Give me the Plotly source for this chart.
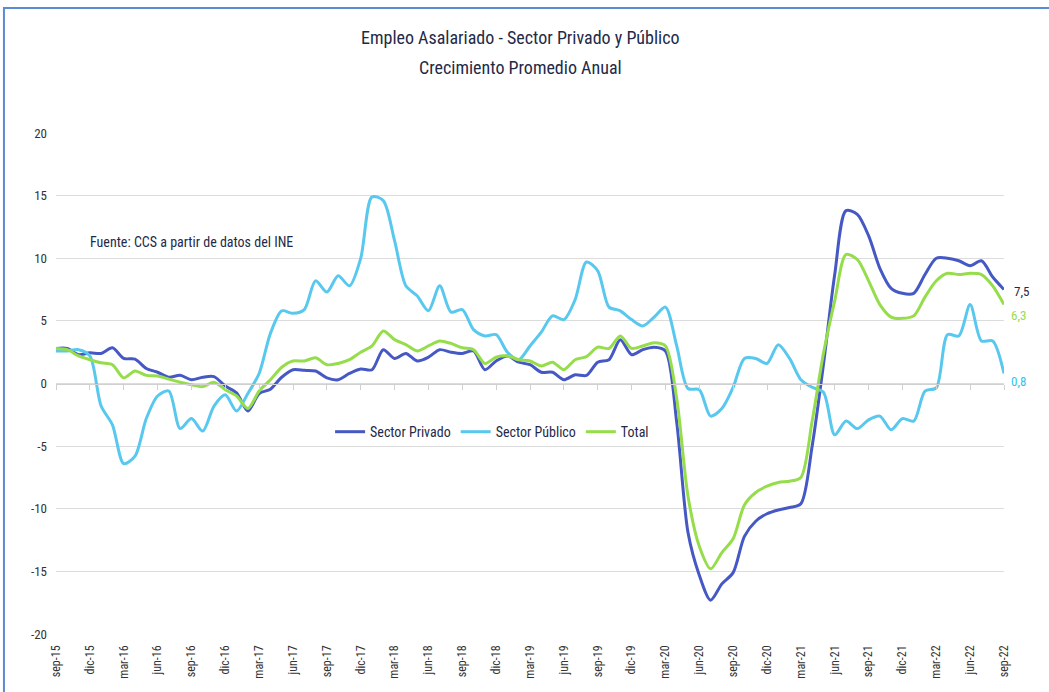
import plotly.graph_objects as go

months = ["sep", "oct", "nov", "dic", "ene", "feb", "mar", "abr", "may", "jun", "jul", "ago"]
years = [15, 15, 15, 15, 16, 16, 16, 16, 16, 16, 16, 16]

# monthly categories sep-15 .. sep-22
categories = []
for _k in range(85):
    _m = _k % 12
    _yr = years[_m] + _k // 12
    categories.append(f"{months[_m]}-{_yr}")
tick_labels = categories[::3]

privado = [2.8, 2.8, 2.3, 2.45, 2.4, 2.85, 2.0, 1.95, 1.2, 0.9,
           0.5, 0.65, 0.3, 0.5, 0.55, -0.2, -0.75, -2.2, -0.8, -0.45,
           0.5, 1.1, 1.05, 1.0, 0.45, 0.3, 0.8, 1.15, 1.1, 2.7,
           2.0, 2.4, 1.8, 2.1, 2.7, 2.5, 2.4, 2.6, 1.1, 1.8,
           2.2, 1.7, 1.5, 0.9, 0.9, 0.3, 0.7, 0.65, 1.7, 1.9,
           3.5, 2.3, 2.7, 2.9, 2.6, -3.1, -11.9, -15.3, -17.3, -16.0,
           -15.1, -12.2, -11.0, -10.4, -10.1, -9.9, -9.6, -5.0, 1.5, 8.7,
           13.8, 13.5, 11.8, 9.2, 7.6, 7.2, 7.2, 8.7, 10.0, 10.0,
           9.8, 9.4, 9.8, 8.5, 7.5]

publico = [2.6, 2.6, 2.7, 2.2, -1.8, -3.3, -6.4, -5.8, -2.8, -1.0,
           -0.6, -3.6, -2.8, -3.8, -1.8, -0.9, -2.2, -0.8, 0.8, 4.0,
           5.8, 5.6, 5.9, 8.2, 7.3, 8.6, 7.8, 10.0, 14.9, 14.6,
           11.4, 7.8, 7.0, 5.8, 7.8, 5.7, 5.9, 4.3, 3.8, 3.9,
           2.5, 1.9, 3.0, 4.1, 5.4, 5.1, 6.7, 9.7, 9.0, 6.1,
           5.8, 5.1, 4.6, 5.3, 6.1, 3.0, -0.4, -0.5, -2.6, -2.0,
           -0.3, 2.0, 2.0, 1.6, 3.1, 2.0, 0.3, -0.3, -0.7, -4.1,
           -3.0, -3.6, -2.9, -2.6, -3.7, -2.8, -3.0, -0.6, -0.35, 3.9,
           3.8, 6.3, 3.4, 3.4, 0.8]

total = [2.8, 2.7, 2.2, 1.9, 1.65, 1.5, 0.45, 1.0, 0.65, 0.6,
         0.35, 0.1, -0.1, -0.25, 0.1, -0.5, -1.0, -2.0, -0.6, 0.3,
         1.3, 1.8, 1.8, 2.05, 1.5, 1.6, 1.9, 2.5, 3.0, 4.2,
         3.5, 3.1, 2.6, 3.0, 3.4, 3.2, 2.85, 2.7, 1.6, 2.1,
         2.2, 1.9, 1.8, 1.4, 1.7, 1.1, 1.9, 2.15, 2.9, 2.8,
         3.8, 2.8, 3.0, 3.25, 3.0, -1.2, -9.0, -13.0, -14.8, -13.5,
         -12.4, -9.7, -8.7, -8.2, -7.9, -7.8, -7.5, -3.0, 2.4, 6.6,
         10.3, 9.9, 8.2, 6.3, 5.3, 5.2, 5.4, 6.9, 8.2, 8.8,
         8.7, 8.8, 8.7, 7.8, 6.3]

y_ticks = [20, 15, 10, 5, 0, -5, -10, -15, -20]

C_PRIV = "#4558C4"
C_PUB = "#58C8EE"
C_TOT = "#95DD4A"
NAVY = "#1F2A48"
FONT = "Liberation Sans Narrow, Roboto Condensed, DejaVu Sans Condensed, Arial Narrow, sans-serif"

fig = go.Figure()
for name, vals, col in [("Sector Privado", privado, C_PRIV),
                        ("Sector Público", publico, C_PUB),
                        ("Total", total, C_TOT)]:
    fig.add_trace(go.Scatter(x=categories, y=vals, name=name, mode="lines",
                             line=dict(color=col, width=3, shape="spline", smoothing=0.8)))

# category axis crossing at zero, with tick marks
fig.add_trace(go.Scatter(x=categories, y=[None] * len(categories), xaxis="x2",
                         showlegend=False, hoverinfo="skip"))

fig.update_layout(
    width=1049, height=692,
    paper_bgcolor="white", plot_bgcolor="white",
    margin=dict(l=56, r=45, t=133, b=58),
    font=dict(family=FONT, color=NAVY),
    showlegend=True,
    legend=dict(orientation="h", x=0.46, y=0.403, xanchor="center", yanchor="middle",
                font=dict(size=14, color=NAVY, family=FONT), bgcolor="rgba(0,0,0,0)",
                itemwidth=30, tracegroupgap=0),
    xaxis=dict(type="category", range=[0, 84], tickmode="array",
               tickvals=tick_labels, ticktext=tick_labels, tickangle=-90,
               showgrid=False, showline=False, zeroline=False, ticks="",
               tickfont=dict(size=12, color="#333333", family=FONT),
               ticklabelstandoff=8),
    xaxis2=dict(type="category", range=[0, 84], overlaying="x", anchor="free",
                position=0.5, showgrid=False, showline=True, linecolor="#D0D0D0",
                linewidth=1, ticks="outside", ticklen=5, tickcolor="#D0D0D0",
                tickmode="array", tickvals=tick_labels, showticklabels=False,
                zeroline=False),
    yaxis=dict(range=[-20, 20], tickmode="array", tickvals=y_ticks,
               ticktext=[str(v) for v in y_ticks], showgrid=True,
               gridcolor="#DCDCDC", gridwidth=1, zeroline=False, showline=False,
               tickfont=dict(size=13, color="#333333", family=FONT),
               ticklabelstandoff=8),
)

annotations = [
    dict(text="Empleo Asalariado - Sector Privado y Público", x=0.49, y=1.1916,
         xref="paper", yref="paper", showarrow=False, xanchor="center", yanchor="middle",
         font=dict(size=18, color=NAVY, family=FONT)),
    dict(text="Crecimiento Promedio Anual", x=0.49, y=1.1317,
         xref="paper", yref="paper", showarrow=False, xanchor="center", yanchor="middle",
         font=dict(size=18, color=NAVY, family=FONT)),
    dict(text="Fuente: CCS a partir de datos del INE", x=0.0338, y=0.7824,
         xref="paper", yref="paper", showarrow=False, xanchor="left", yanchor="middle",
         font=dict(size=14, color=NAVY, family=FONT)),
    dict(text=f"{privado[-1]:.1f}".replace(".", ","), x=categories[-1], y=privado[-1],
         xref="x", yref="y", showarrow=False, xanchor="left", yanchor="middle",
         xshift=8, yshift=-2, font=dict(size=13, color=NAVY, family=FONT)),
    dict(text=f"{total[-1]:.1f}".replace(".", ","), x=categories[-1], y=total[-1],
         xref="x", yref="y", showarrow=False, xanchor="left", yanchor="middle",
         xshift=5, yshift=-11, font=dict(size=13, color=C_TOT, family=FONT)),
    dict(text=f"{publico[-1]:.1f}".replace(".", ","), x=categories[-1], y=publico[-1],
         xref="x", yref="y", showarrow=False, xanchor="left", yanchor="middle",
         xshift=5, yshift=-8, font=dict(size=13, color="#2EC4F2", family=FONT)),
]
fig.update_layout(annotations=annotations)

fig.add_shape(type="rect", xref="paper", yref="paper",
              x0=-0.0549, x1=1.06, y0=-0.14, y1=1.2495,
              line=dict(color="#5B8BD0", width=2), fillcolor="rgba(0,0,0,0)", layer="below")

fig.write_html("out.html", config={"displayModeBar": False},
               post_script="document.body.style.margin='0px';")
